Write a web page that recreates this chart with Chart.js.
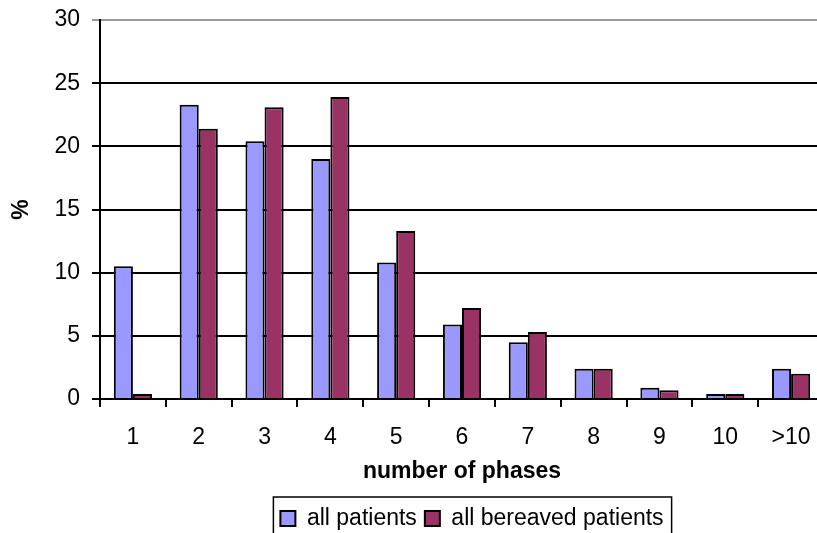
<!DOCTYPE html>
<html>
<head>
<meta charset="utf-8">
<script src="https://cdn.jsdelivr.net/npm/chart.js@4"></script>
<style>
  html, body { margin: 0; padding: 0; background: #fff; overflow: hidden; }
  canvas { display: block; }
</style>
</head>
<body>
<canvas id="phaseChart" width="830" height="560" style="width:830px;height:560px"></canvas>
<script>
const phases = ['1', '2', '3', '4', '5', '6', '7', '8', '9', '10', '>10'];
const allPatients = [10.5, 23.3, 20.4, 19.0, 10.8, 5.9, 4.5, 2.4, 0.9, 0.4, 2.4];
const bereavedPatients = [0.4, 21.4, 23.1, 23.9, 13.3, 7.2, 5.3, 2.4, 0.7, 0.4, 2.0];
const yTicks = [0, 5, 10, 15, 20, 25, 30];

const txt = 'Arial, "Liberation Sans", sans-serif';

// legend sits a bit right of centre and has a thin frame round it
const legendFrame = {
    id: 'legendFrame',
    afterLayout(chart) {
        const lg = chart.legend;
        const shift = 472 - (lg.left + lg.right) / 2;
        lg.left += shift;
        lg.right += shift;
    },
    afterDraw(chart) {
        const lg = chart.legend;
        const boxes = lg.legendHitBoxes;
        if (!boxes || !boxes.length) return;
        const last = boxes[boxes.length - 1];
        const x0 = boxes[0].left - 7;
        const x1 = last.left + last.width + 8;
        const ctx = chart.ctx;
        ctx.save();
        ctx.strokeStyle = '#000';
        ctx.lineWidth = 1.5;
        ctx.strokeRect(x0, lg.top - 2, x1 - x0, 80);
        ctx.restore();
    }
};

const ctx = document.getElementById('phaseChart').getContext('2d');

new Chart(ctx, {
    type: 'bar',
    data: {
        labels: phases,
        datasets: [{
            label: 'all patients',
            data: allPatients,
            backgroundColor: '#9999FF',
            borderColor: '#000',
            borderWidth: 2
        }, {
            label: 'all bereaved patients',
            data: bereavedPatients,
            backgroundColor: '#993366',
            borderColor: '#000',
            borderWidth: 2
        }]
    },
    options: {
        responsive: false,
        animation: false,
        layout: { padding: { top: 20, right: 6, left: 0, bottom: 20 } },
        datasets: {
            bar: { categoryPercentage: 0.58, barPercentage: 1.0 }
        },
        scales: {
            x: {
                grid: {
                    offset: true,
                    drawOnChartArea: false,
                    color: '#000',
                    lineWidth: 2,
                    tickLength: 8
                },
                border: { color: '#000', width: 2 },
                ticks: { color: '#000', font: { family: txt, size: 23 }, padding: 17 },
                title: {
                    display: true,
                    text: 'number of phases',
                    color: '#000',
                    font: { family: txt, size: 23, weight: 'bold' },
                    padding: { top: 0, bottom: 14 }
                },
                afterFit(scale) { scale.height = 100; }
            },
            y: {
                min: 0,
                max: 30,
                afterBuildTicks(scale) {
                    scale.ticks = yTicks.map(v => ({ value: v }));
                },
                grid: {
                    color: c => (c.tick && c.tick.value === 30 ? '#999' : '#000'),
                    lineWidth: 2,
                    tickLength: 8
                },
                border: { color: '#000', width: 2 },
                ticks: { color: '#000', font: { family: txt, size: 23 }, padding: 12 },
                title: {
                    display: true,
                    text: '%',
                    color: '#000',
                    font: { family: txt, size: 23, weight: 'bold' },
                    padding: { top: 8, bottom: 0 }
                },
                afterFit(scale) {
                    scale.width = 100;
                    scale.paddingTop = 0;
                    scale.paddingBottom = 0;
                }
            }
        },
        plugins: {
            legend: {
                position: 'bottom',
                labels: {
                    color: '#000',
                    font: { family: txt, size: 23 },
                    boxWidth: 15,
                    boxHeight: 15,
                    padding: 8
                }
            },
            tooltip: { enabled: false }
        }
    },
    plugins: [legendFrame]
});
</script>
</body>
</html>
